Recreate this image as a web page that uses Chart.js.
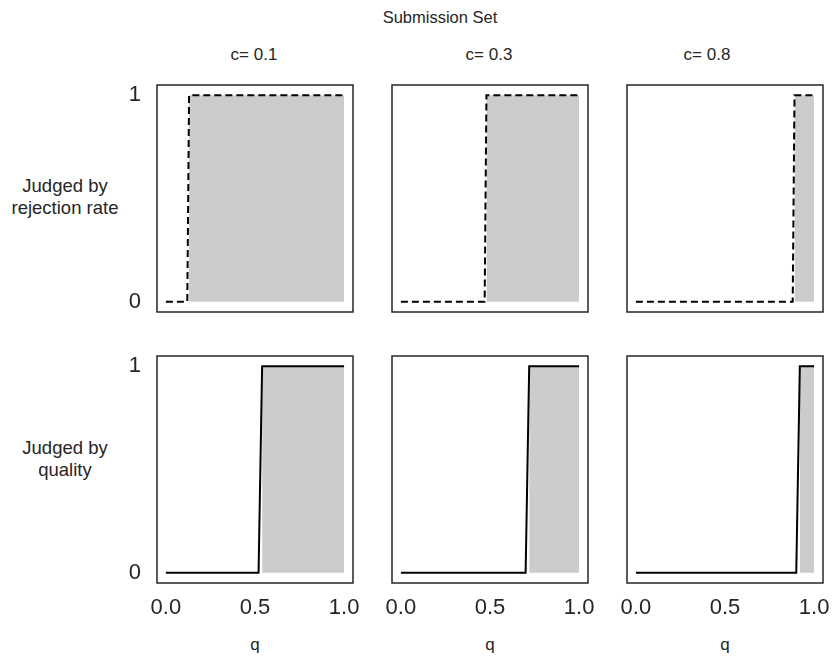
<!DOCTYPE html>
<html>
<head>
<meta charset="utf-8">
<script src="https://cdn.jsdelivr.net/npm/chart.js@4.4.1/dist/chart.umd.min.js"></script>
<style>
  html, body { margin: 0; padding: 0; background: #fff; }
  #fig { position: relative; width: 833px; height: 661px; font-family: "Liberation Sans", Arial, Helvetica, sans-serif; color: #262626; }
  .lbl { position: absolute; white-space: nowrap; transform: translate(-50%, -50%); text-align: center; line-height: 1.2; }
  canvas { position: absolute; }
</style>
</head>
<body>
<div id="fig"></div>
<script>
// column / row labels
const costLabels = ['c= 0.1', 'c= 0.3', 'c= 0.8'];
const rowLabels = [['Judged by', 'rejection rate'], ['Judged by', 'quality']];

// step curves: [q, accepted]
const rejectionCurves = [
    [[0, 0], [0.12, 0], [0.13, 1], [1, 1]],
    [[0, 0], [0.47, 0], [0.48, 1], [1, 1]],
    [[0, 0], [0.88, 0], [0.89, 1], [1, 1]]
];
const qualityCurves = [
    [[0, 0], [0.52, 0], [0.54, 1], [1, 1]],
    [[0, 0], [0.70, 0], [0.72, 1], [1, 1]],
    [[0, 0], [0.90, 0], [0.92, 1], [1, 1]]
];
const xTicks = [0, 0.5, 1];
const yTicks = [0, 1];

const FONT = '"Liberation Sans", Arial, Helvetica, sans-serif';
const INK = '#262626';
const fig = document.getElementById('fig');

// chart area placement
const colLeft = [157, 392, 627];
const rowTop = [85, 356];
const areaW = 196, areaH = 227;
const padL = 45, padT = 14, padR = 30, padB = 45;

function addLabel(text, x, y, size) {
    let d = document.createElement('div');
    d.className = 'lbl';
    d.style.left = x + 'px';
    d.style.top = y + 'px';
    d.style.fontSize = size + 'px';
    d.innerHTML = text;
    fig.appendChild(d);
}

addLabel('Submission Set', 440, 18, 16.5);
addLabel(costLabels[0], 254, 55, 17);
addLabel(costLabels[1], 489, 55, 17);
addLabel(costLabels[2], 707, 55, 17);
addLabel(rowLabels[0].join('<br>'), 65, 197, 18.5);
addLabel(rowLabels[1].join('<br>'), 65, 459, 18.5);
for (let c = 0; c < 3; c++) {
    addLabel('q', colLeft[c] + areaW / 2, 645, 17);
}

const frame = {
    id: 'frame',
    afterDraw(chart) {
        const a = chart.chartArea;
        const ctx = chart.ctx;
        ctx.save();
        ctx.strokeStyle = INK;
        ctx.lineWidth = 1.5;
        ctx.strokeRect(a.left, a.top, a.right - a.left, a.bottom - a.top);
        ctx.restore();
    }
};

function makePanel(row, col, curve) {
    const cv = document.createElement('canvas');
    const w = areaW + padL + padR, h = areaH + padT + padB;
    cv.width = w; cv.height = h;
    cv.style.width = w + 'px'; cv.style.height = h + 'px';
    cv.style.left = (colLeft[col] - padL) + 'px';
    cv.style.top = (rowTop[row] - padT) + 'px';
    fig.appendChild(cv);

    const pts = curve.map(p => ({ x: p[0], y: p[1] }));
    const start = curve.find(p => p[1] === 1)[0];
    const accepted = [{ x: start, y: 1 }, { x: 1, y: 1 }];

    new Chart(cv, {
        type: 'line',
        data: {
            datasets: [{
                data: pts,
                borderColor: '#000',
                borderWidth: 2,
                borderDash: row === 0 ? [7, 4] : [],
                pointRadius: 0,
                fill: false,
                tension: 0,
                order: 0
            }, {
                data: accepted,
                borderWidth: 0,
                borderColor: 'rgba(0,0,0,0)',
                backgroundColor: '#cccccc',
                pointRadius: 0,
                fill: 'origin',
                order: 1
            }]
        },
        options: {
            responsive: false,
            animation: false,
            events: [],
            layout: { padding: { left: 0, top: padT, right: padR, bottom: 0 } },
            plugins: { legend: { display: false }, tooltip: { enabled: false } },
            scales: {
                x: {
                    type: 'linear', min: -0.05, max: 1.05,
                    grid: { display: false, drawTicks: false },
                    border: { display: false },
                    afterBuildTicks: s => { s.ticks = xTicks.map(v => ({ value: v })); },
                    afterFit: s => { s.height = padB; s.paddingLeft = 0; s.paddingRight = 0; },
                    ticks: {
                        display: row === 1,
                        autoSkip: false, maxRotation: 0,
                        padding: 12,
                        color: INK,
                        font: { family: FONT, size: 22 },
                        callback: v => Number(v).toFixed(1)
                    }
                },
                y: {
                    type: 'linear', min: -0.05, max: 1.05,
                    grid: { display: false, drawTicks: false },
                    border: { display: false },
                    afterBuildTicks: s => { s.ticks = yTicks.map(v => ({ value: v })); },
                    afterFit: s => { s.width = padL; s.paddingTop = 0; s.paddingBottom = 0; },
                    ticks: {
                        display: col === 0,
                        padding: 16,
                        color: INK,
                        font: { family: FONT, size: 22 }
                    }
                }
            }
        },
        plugins: [frame]
    });
}

for (let c = 0; c < 3; c++) {
    makePanel(0, c, rejectionCurves[c]);
    makePanel(1, c, qualityCurves[c]);
}
</script>
</body>
</html>
